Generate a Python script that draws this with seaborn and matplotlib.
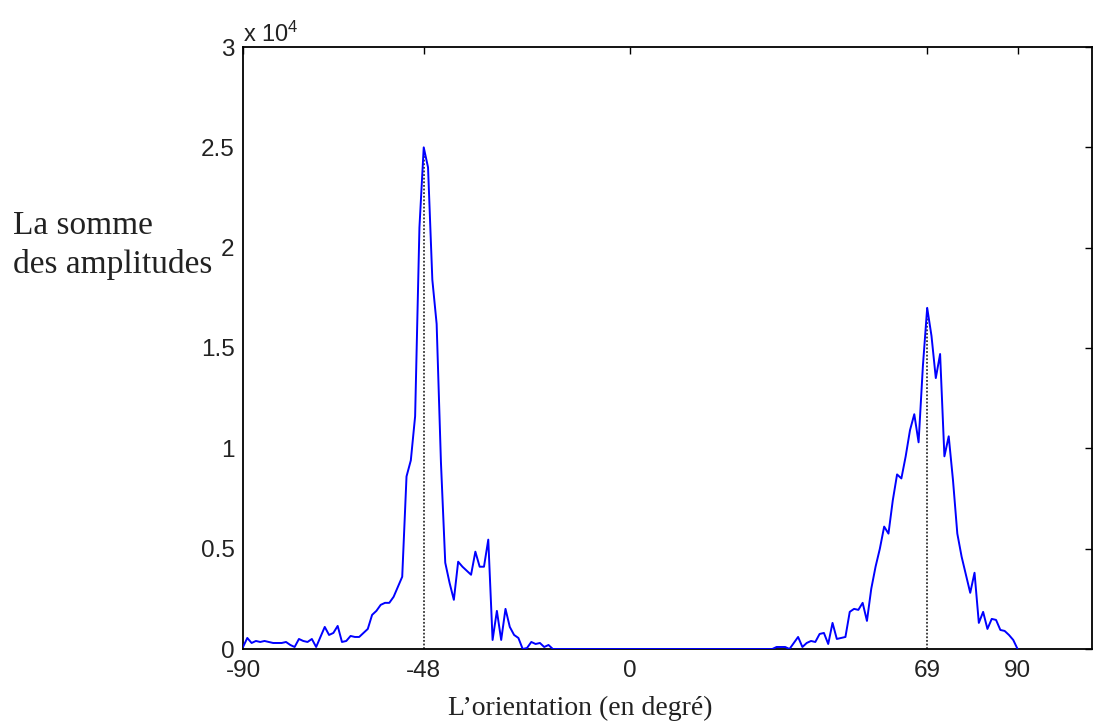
import numpy as np
import pandas as pd
import seaborn as sns
import matplotlib
matplotlib.use("Agg")
import matplotlib.pyplot as plt

# Orientation in degrees, one sample per degree from -90 to 90
orientation = list(range(-90, 91))

# Sum of amplitudes (units of 1e4)
left_tail = [0.01, 0.055, 0.03, 0.04, 0.035, 0.04, 0.035, 0.03, 0.03, 0.03,   # -90..-81
             0.035, 0.02, 0.01, 0.05, 0.04, 0.035, 0.05, 0.01, 0.06, 0.11,    # -80..-71
             0.07, 0.08, 0.115, 0.035, 0.04, 0.065, 0.06, 0.06, 0.08, 0.10]   # -70..-61
left_peak = [0.17, 0.19, 0.22, 0.23, 0.23, 0.26, 0.31, 0.36, 0.86, 0.94,      # -60..-51
             1.16, 2.10, 2.50, 2.40, 1.84, 1.62, 0.93, 0.43, 0.33, 0.245,     # -50..-41
             0.435, 0.41, 0.39, 0.37, 0.485, 0.41, 0.41, 0.545, 0.045, 0.19,  # -40..-31
             0.045, 0.20, 0.11, 0.07, 0.055, 0.0, 0.005, 0.035, 0.025, 0.03,  # -30..-21
             0.01, 0.02, 0.0]                                                 # -20..-18
middle = [0.0] * 51                                                           # -17..33
right_peak = [0.01, 0.01, 0.01, 0.0, 0.03, 0.06, 0.01, 0.03, 0.04,           # 34..42
              0.035, 0.075, 0.08, 0.025, 0.13, 0.05, 0.055, 0.06, 0.185, 0.20, # 43..52
              0.195, 0.23, 0.14, 0.30, 0.41, 0.50, 0.61, 0.575, 0.74, 0.87,   # 53..62
              0.85, 0.96, 1.09, 1.17, 1.03, 1.41, 1.70, 1.56, 1.35, 1.47,     # 63..72
              0.96, 1.06, 0.84, 0.575, 0.46, 0.37, 0.28, 0.38, 0.13, 0.185,   # 73..82
              0.10, 0.15, 0.145, 0.095, 0.09, 0.07, 0.045, 0.0]               # 83..90
amplitude = left_tail + left_peak + middle + right_peak

peak_orientations = [-48, 69]
peak_values = [2.50, 1.70]

x_ticks = [-90, -48, 0, 69, 90]
y_ticks = [0, 0.5, 1, 1.5, 2, 2.5, 3]
y_tick_labels = ["0", "0.5", "1", "1.5", "2", "2.5", "3"]
y_label_lines = ["La somme", "des amplitudes"]

df = pd.DataFrame({"orientation": orientation, "amplitude": amplitude})

sns.set_style("white")
plt.rcParams["font.family"] = ["Liberation Sans", "DejaVu Sans"]
plt.rcParams["xtick.direction"] = "in"
plt.rcParams["ytick.direction"] = "in"

fig = plt.figure(figsize=(10.94, 7.22), dpi=100)
ax = fig.add_axes([243 / 1094, 1 - 649 / 722, (1092 - 243) / 1094, (649 - 47) / 722])

sns.lineplot(data=df, x="orientation", y="amplitude", color="#0000ff",
             linewidth=1.4, ax=ax, zorder=3)

for px, pv in zip(peak_orientations, peak_values):
    ax.plot([px, px], [0, pv], linestyle=(0, (1, 1)), color="#333333",
            linewidth=1.3, zorder=2)

ax.set_xlim(-90, 107.3)
ax.set_ylim(0, 3)
ax.set_xticks(x_ticks)
ax.set_xticklabels([str(t) for t in x_ticks], fontsize=17.5)
ax.set_yticks(y_ticks)
ax.set_yticklabels(y_tick_labels, fontsize=17.5)
ax.tick_params(axis="both", which="both", direction="in", length=5, width=1,
               top=True, right=True, colors="black")
ax.tick_params(axis="x", pad=8)
ax.tick_params(axis="y", pad=6)
for lab in ax.get_xticklabels() + ax.get_yticklabels():
    lab.set_color("#222222")

for s in ax.spines.values():
    s.set_color("black")
    s.set_linewidth(1.3)

ax.set_xlabel("L\u2019orientation (en degré)", family=["Liberation Serif"],
              fontsize=20, color="#222222")
ax.xaxis.set_label_coords((580 - 243) / (1092 - 243), -0.078)
ax.set_ylabel("")

for line_text, base_y in zip(y_label_lines, [234, 273]):
    fig.text(13 / 1094, 1 - base_y / 722, line_text,
             family=["Liberation Serif"], fontsize=24, ha="left",
             va="baseline", color="#222222")

fig.text(243 / 1094, 1 - 42 / 722, r"x 10$\mathregular{^{4}}$",
         fontsize=17, ha="left", va="baseline", color="#222222")

fig.savefig("out.png", dpi=100, facecolor="white")
